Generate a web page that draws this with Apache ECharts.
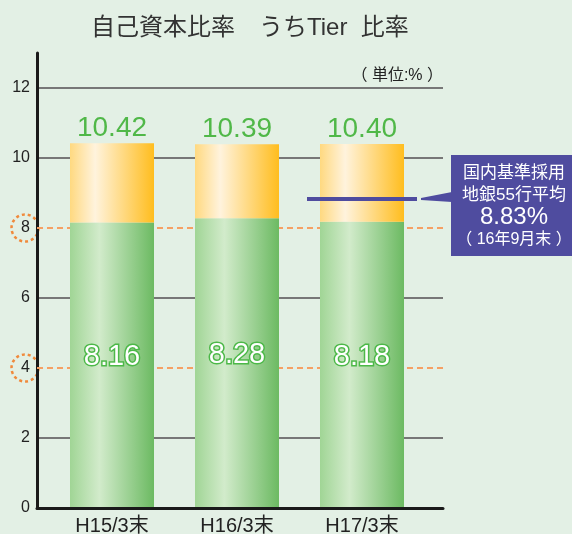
<!DOCTYPE html>
<html>
<head>
<meta charset="utf-8">
<script src="https://cdn.jsdelivr.net/npm/echarts@6/dist/echarts.min.js"></script>
<style>
html, body {margin: 0; padding: 0; background: #e3f0e5;}
#main {width: 572px; height: 534px;}
</style>
</head>
<body>
<div id="main"></div>
<script>
var categories = ['H15/3末', 'H16/3末', 'H17/3末'];
var tier1Ratio = [8.16, 8.28, 8.18];
var capitalRatio = [10.42, 10.39, 10.40];
var yMin = 0, yMax = 13, yStep = 2;
var guideLines = [4, 8];
var regionalAvg = 8.83;
var calloutLines = ['国内基準採用', '地銀55行平均', '8.83%', '（ 16年9月末 ）'];

var font = "'Liberation Sans', 'Noto Sans CJK JP', sans-serif";
var upperPart = capitalRatio.map(function (v, i) {
    return +(v - tier1Ratio[i]).toFixed(2);
});
// gray grid lines, hidden where an orange guide replaces them
var gridColors = [];
for (var t = yMin; t < yMax; t += yStep) {
    gridColors.push(guideLines.indexOf(t) >= 0 ? 'rgba(0,0,0,0)' : '#777');
}

var myChart = echarts.init(document.getElementById('main'));

var option = {
    backgroundColor: '#e3f0e5',
    textStyle: {fontFamily: font},
    title: [{
        text: '自己資本比率　うちTier  比率',
        left: 86,
        top: 11,
        textStyle: {fontSize: 24, fontWeight: 'normal', color: '#333', fontFamily: font}
    }, {
        text: '（ 単位:% ）',
        right: 124,
        top: 63,
        textStyle: {fontSize: 16, fontWeight: 'normal', color: '#222', fontFamily: font}
    }],
    grid: [
        {left: 37, right: 129, top: 53, bottom: 26, outerBoundsMode: 'none'},
        {left: 49.5, right: 147.5, top: 53, bottom: 26, outerBoundsMode: 'none'}
    ],
    xAxis: [{
        gridIndex: 0,
        type: 'category',
        z: 4,
        data: categories,
        axisLine: {lineStyle: {color: '#1a1a1a', width: 3}},
        axisTick: {show: false},
        axisLabel: {show: false}
    }, {
        gridIndex: 1,
        type: 'category',
        data: categories,
        axisLine: {show: false},
        axisTick: {show: false},
        axisLabel: {fontSize: 20, color: '#222', margin: 8, fontFamily: font}
    }],
    yAxis: [{
        gridIndex: 0,
        type: 'value',
        min: yMin,
        max: yMax,
        interval: yStep,
        axisLine: {show: true, lineStyle: {color: '#1a1a1a', width: 3}},
        axisTick: {show: false},
        axisLabel: {fontSize: 16, color: '#222', margin: 7, showMaxLabel: false, fontFamily: font},
        splitLine: {show: true, showMaxLine: false, lineStyle: {color: gridColors, width: 2}}
    }, {
        gridIndex: 1,
        type: 'value',
        min: yMin,
        max: yMax,
        show: false
    }],
    series: [{
        // only carries the dashed orange guides across the full plot
        type: 'line',
        xAxisIndex: 0,
        yAxisIndex: 0,
        z: 1,
        data: [null, null, null],
        showSymbol: false,
        silent: true,
        markLine: {
            silent: true,
            z: 1,
            symbol: 'none',
            label: {show: false},
            lineStyle: {color: '#f5a064', type: [6, 4], width: 2},
            data: guideLines.map(function (v) { return {yAxis: v}; })
        }
    }, {
        name: 'Tier1',
        type: 'bar',
        xAxisIndex: 1,
        yAxisIndex: 1,
        z: 3,
        stack: 'ratio',
        barWidth: 84,
        data: tier1Ratio,
        itemStyle: {
            color: new echarts.graphic.LinearGradient(0, 0, 1, 0, [
                {offset: 0, color: '#a0d595'},
                {offset: 0.35, color: '#d2ebcb'},
                {offset: 1, color: '#6cba62'}
            ])
        },
        label: {
            show: true,
            position: 'inside',
            offset: [0, -8],
            fontSize: 29,
            color: '#fff',
            textBorderColor: '#4cb848',
            textBorderWidth: 3,
            fontFamily: font
        }
    }, {
        name: 'Total',
        type: 'bar',
        xAxisIndex: 1,
        yAxisIndex: 1,
        z: 3,
        stack: 'ratio',
        barWidth: 84,
        data: upperPart,
        itemStyle: {
            color: new echarts.graphic.LinearGradient(0, 0, 1, 0, [
                {offset: 0, color: '#ffd980'},
                {offset: 0.3, color: '#fff3dd'},
                {offset: 1, color: '#ffbd1e'}
            ])
        },
        label: {
            show: true,
            position: 'top',
            distance: 1,
            fontSize: 28,
            color: '#50b848',
            fontFamily: font,
            formatter: function (p) {
                return capitalRatio[p.dataIndex].toFixed(2);
            }
        }
    }]
};
myChart.setOption(option);

// annotations placed from the axes' own scales
var yAvg = myChart.convertToPixel({yAxisIndex: 1}, regionalAvg);
var xLast = myChart.convertToPixel({xAxisIndex: 1}, categories[2]);
var graphics = [];

guideLines.forEach(function (v) {
    graphics.push({
        type: 'circle',
        shape: {cx: 25, cy: myChart.convertToPixel({yAxisIndex: 0}, v), r: 13.5},
        style: {fill: 'none', stroke: '#f08a3c', lineWidth: 2.5, lineDash: [3, 3]},
        silent: true
    });
});

graphics.push({
    type: 'line',
    shape: {x1: xLast - 55, y1: yAvg, x2: xLast + 55, y2: yAvg},
    style: {stroke: '#4f4c9f', lineWidth: 4},
    z: 10
});
graphics.push({
    type: 'polygon',
    shape: {points: [[421, yAvg - 1], [452, yAvg - 7], [452, yAvg + 3], [421, yAvg + 1]]},
    style: {fill: '#4f4c9f'},
    z: 10
});
graphics.push({
    type: 'rect',
    shape: {x: 451, y: yAvg - 44, width: 125, height: 101},
    style: {fill: '#4f4c9f'},
    z: 10
});
var lineOffsets = [-26, -4, 18, 41];
var lineSizes = [17, 17, 24, 16];
calloutLines.forEach(function (t, i) {
    graphics.push({
        type: 'text',
        x: 514,
        y: yAvg + lineOffsets[i],
        style: {
            text: t,
            fill: '#fff',
            font: lineSizes[i] + 'px ' + font,
            textAlign: 'center',
            textVerticalAlign: 'middle'
        },
        z: 11
    });
});

myChart.setOption({graphic: graphics});
</script>
</body>
</html>
